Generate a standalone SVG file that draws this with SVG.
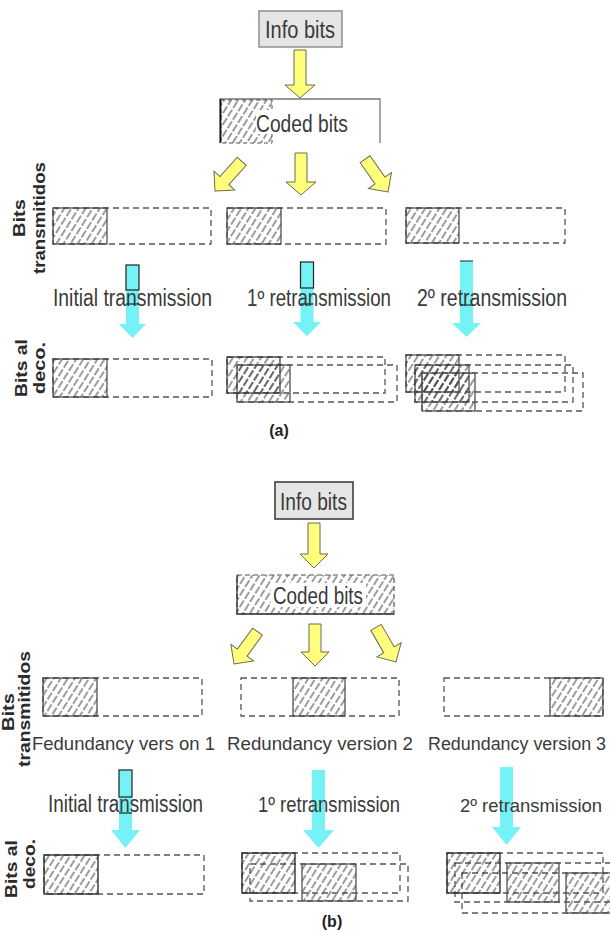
<svg xmlns="http://www.w3.org/2000/svg" xmlns:xlink="http://www.w3.org/1999/xlink" width="610" height="932" viewBox="0 0 610 932">
  <defs>
    <pattern id="hatch" patternUnits="userSpaceOnUse" width="6" height="10" patternTransform="rotate(32)">
      <line x1="3" y1="0" x2="3" y2="10" stroke="#3a3a3a" stroke-width="1" stroke-dasharray="8 2"/>
    </pattern>
    <!-- block arrow pointing down, tip at origin -->
    <path id="diag" d="M-6,-40 H6 V-14 H14 L0,0 L-14,-14 H-6 Z"/>
  </defs>
  <style>
    .lbl { font-family: "Liberation Sans", Arial, sans-serif; fill: #3a3a3a; }
    .vl { font-family: "Liberation Sans", Arial, sans-serif; fill: #2a2a2a; font-weight: bold; font-size: 17px; }
    .tag { font-family: "Liberation Sans", Arial, sans-serif; fill: #222; font-weight: bold; font-size: 16px; text-anchor: middle; }
    .dash { fill: none; stroke: #555; stroke-width: 1.3; stroke-dasharray: 6 4; }
    .hat { fill: url(#hatch); stroke: #444; stroke-width: 1.2; }
    .yel { fill: #ffff7c; stroke: #6a6a55; stroke-width: 1; }
    .cy { fill: #74f2f6; stroke: none; }
    .cyo { fill: none; stroke: #222; stroke-width: 1.2; }
    .info { fill: #e5e5e5; stroke: #888; stroke-width: 1.4; }
  </style>
  <rect width="610" height="932" fill="#ffffff"/>

  <!-- ===================== (a) Chase combining ===================== -->
  <g id="a-info">
    <rect class="info" x="259" y="11" width="83" height="36"/>
    <text class="lbl" x="265" y="38" font-size="23.5" textLength="70" lengthAdjust="spacingAndGlyphs">Info bits</text>
  </g>
  <g id="a-coded">
    <path d="M220,143 V99 H380 V143" fill="none" stroke="#777" stroke-width="1.3"/>
    <rect x="221" y="100" width="51" height="43" fill="url(#hatch)" stroke="#555" stroke-width="1" stroke-dasharray="4 3"/>
    <line x1="220.5" y1="99" x2="220.5" y2="143" stroke="#111" stroke-width="1.6"/>
    <rect x="256" y="110" width="94" height="24" fill="#fff"/>
    <text class="lbl" x="256" y="132" font-size="23.5" textLength="92" lengthAdjust="spacingAndGlyphs">Coded bits</text>
  </g>

  <g id="a-connectors">
    <path class="yel" d="M294,50 H306 V85 H315 L300,98 L285,85 H294 Z"/>
    <use xlink:href="#diag" class="yel" transform="translate(215,191) rotate(42)"/>
    <path class="yel" d="M295,153 H307 V182 H316 L301,195 L286,182 H295 Z"/>
    <use xlink:href="#diag" class="yel" transform="translate(388,192) rotate(-35)"/>
    <!-- cyan transfer arrows -->
    <path class="cy" d="M126,265 H139 V324 H146 L132.5,338 L119,324 H126 Z"/>
    <rect class="cyo" x="126" y="265" width="13" height="25"/>
    <line x1="126" y1="304" x2="139" y2="304" stroke="#222" stroke-width="1.2"/>
    <path class="cy" d="M300.5,262 H313.5 V322 H321 L307,336 L293,322 H300.5 Z"/>
    <rect class="cyo" x="300.5" y="262" width="13" height="26"/>
    <line x1="300.5" y1="304" x2="313.5" y2="304" stroke="#222" stroke-width="1.2"/>
    <path class="cy" d="M460,261 H473 V323 H481 L466.5,337 L452,323 H460 Z"/>
    <line x1="460" y1="261" x2="473" y2="261" stroke="#444" stroke-width="1.2"/>
    <line x1="460" y1="305" x2="473" y2="305" stroke="#333" stroke-width="1.2"/>
  </g>

  <g id="a-tx1">
    <rect class="dash" x="53" y="208" width="158" height="36"/>
    <rect class="hat" x="53" y="208" width="54" height="36"/>
  </g>
  <g id="a-tx2">
    <rect class="dash" x="227" y="208" width="159" height="36"/>
    <rect class="hat" x="227" y="208" width="54" height="36"/>
  </g>
  <g id="a-tx3">
    <rect class="dash" x="406" y="208" width="159" height="35"/>
    <rect class="hat" x="406" y="208" width="53" height="35"/>
  </g>

  <g id="a-steps">
    <text class="lbl" x="53" y="306" font-size="23.5" textLength="159" lengthAdjust="spacingAndGlyphs">Initial transmission</text>
    <text class="lbl" x="247" y="306" font-size="23" textLength="144" lengthAdjust="spacingAndGlyphs">1º retransmission</text>
    <text class="lbl" x="417" y="306" font-size="23.5" textLength="150" lengthAdjust="spacingAndGlyphs">2º retransmission</text>
  </g>

  <g id="a-rx1">
    <rect class="dash" x="53" y="359" width="159" height="38"/>
    <rect class="hat" x="53" y="359" width="54" height="38"/>
  </g>
  <g id="a-rx2">
    <rect class="hat" x="237" y="365" width="53" height="37"/>
    <rect class="dash" x="237" y="365" width="160" height="37"/>
    <rect class="dash" x="227" y="357" width="158" height="36"/>
    <rect x="227" y="357" width="53" height="36" fill="url(#hatch)" stroke="#333" stroke-width="1.2"/>
  </g>
  <g id="a-rx3">
    <rect class="hat" x="422" y="373" width="53" height="38"/>
    <rect class="dash" x="422" y="373" width="161" height="38"/>
    <rect class="dash" x="415" y="365" width="158" height="37"/>
    <rect x="415" y="365" width="54" height="37" fill="url(#hatch)" stroke="#444" stroke-width="1.2"/>
    <rect class="dash" x="406" y="355" width="159" height="37"/>
    <rect x="406" y="355" width="53" height="37" fill="url(#hatch)" stroke="#444" stroke-width="1.2"/>
  </g>

  <g id="a-axis">
    <text class="vl" transform="translate(25,218) rotate(-90)" text-anchor="middle" textLength="38" lengthAdjust="spacingAndGlyphs">Bits</text>
    <text class="vl" transform="translate(45,218) rotate(-90)" text-anchor="middle" font-weight="normal" textLength="112" lengthAdjust="spacingAndGlyphs">transmitidos</text>
    <text class="vl" transform="translate(27,368) rotate(-90)" text-anchor="middle" textLength="58" lengthAdjust="spacingAndGlyphs">Bits al</text>
    <text class="vl" transform="translate(45,368) rotate(-90)" text-anchor="middle" textLength="52" lengthAdjust="spacingAndGlyphs">deco.</text>
    <text class="tag" x="279" y="436">(a)</text>
  </g>

  <!-- ===================== (b) Incremental redundancy ===================== -->
  <g id="b-info">
    <rect x="275" y="482" width="78" height="37" fill="#e5e5e5" stroke="#333" stroke-width="1.5"/>
    <text class="lbl" x="280" y="510" font-size="23" textLength="67" lengthAdjust="spacingAndGlyphs">Info bits</text>
  </g>
  <g id="b-coded">
    <rect x="237" y="575" width="157" height="39" fill="url(#hatch)" stroke="#555" stroke-width="1.2" stroke-dasharray="5 3"/>
    <path d="M237,575 V614 H394" fill="none" stroke="#333" stroke-width="1.3"/>
    <rect x="271" y="583" width="95" height="24" fill="#fff"/>
    <text class="lbl" x="273" y="604" font-size="23" textLength="90" lengthAdjust="spacingAndGlyphs">Coded bits</text>
  </g>

  <g id="b-connectors">
    <path class="yel" d="M308,523 H320 V554 H328 L314,568 L300,554 H308 Z"/>
    <use xlink:href="#diag" class="yel" transform="translate(234,664) rotate(36)"/>
    <path class="yel" d="M309,624 H321 V652 H329 L315,666 L301,652 H309 Z"/>
    <use xlink:href="#diag" class="yel" transform="translate(396,662) rotate(-30)"/>
    <!-- cyan transfer arrows -->
    <path class="cy" d="M119,770 H132 V830 H140 L125.5,848 L111,830 H119 Z"/>
    <rect class="cyo" x="119" y="770" width="13" height="27"/>
    <line x1="119" y1="813" x2="132" y2="813" stroke="#222" stroke-width="1.2"/>
    <path class="cy" d="M312,770 H325 V830 H334 L318.5,848 L303,830 H312 Z"/>
    <path class="cy" d="M500,767 H513 V827 H521 L506.5,845 L492,827 H500 Z"/>
  </g>

  <g id="b-tx1">
    <rect class="dash" x="43" y="678" width="159" height="38"/>
    <rect class="hat" x="43" y="678" width="54" height="38"/>
  </g>
  <g id="b-tx2">
    <rect class="dash" x="241" y="678" width="158" height="38"/>
    <rect class="hat" x="293" y="678" width="52" height="38"/>
  </g>
  <g id="b-tx3">
    <rect class="dash" x="444" y="678" width="159" height="38"/>
    <rect class="hat" x="550" y="678" width="53" height="38"/>
  </g>

  <g id="b-versions">
    <text class="lbl" x="32" y="750" font-size="19" textLength="183" lengthAdjust="spacingAndGlyphs">Fedundancy vers on 1</text>
    <text class="lbl" x="227" y="750" font-size="19" textLength="186" lengthAdjust="spacingAndGlyphs">Redundancy version 2</text>
    <text class="lbl" x="428" y="750" font-size="17.5" textLength="178" lengthAdjust="spacingAndGlyphs">Redundancy version 3</text>
  </g>

  <g id="b-steps">
    <text class="lbl" x="48" y="812" font-size="23" textLength="155" lengthAdjust="spacingAndGlyphs">Initial transmission</text>
    <text class="lbl" x="258" y="812" font-size="22.5" textLength="142" lengthAdjust="spacingAndGlyphs">1º retransmission</text>
    <text class="lbl" x="460" y="812" font-size="19" textLength="142" lengthAdjust="spacingAndGlyphs">2º retransmission</text>
  </g>

  <g id="b-rx1">
    <rect class="dash" x="44" y="855" width="160" height="39"/>
    <rect x="44" y="855" width="54" height="39" fill="url(#hatch)" stroke="#333" stroke-width="1.4"/>
  </g>
  <g id="b-rx2">
    <rect class="hat" x="302" y="864" width="54" height="37"/>
    <rect class="dash" x="250" y="864" width="158" height="37"/>
    <rect class="dash" x="242" y="853" width="158" height="40"/>
    <rect x="242" y="853" width="53" height="40" fill="url(#hatch)" stroke="#333" stroke-width="1.4"/>
  </g>
  <g id="b-rx3">
    <rect class="hat" x="566" y="873" width="54" height="40"/>
    <rect class="dash" x="462" y="873" width="158" height="40"/>
    <rect class="hat" x="507" y="863" width="52" height="39"/>
    <rect class="dash" x="455" y="863" width="158" height="39"/>
    <rect class="dash" x="447" y="853" width="156" height="40"/>
    <rect x="447" y="853" width="53" height="40" fill="url(#hatch)" stroke="#333" stroke-width="1.4"/>
  </g>

  <g id="b-axis">
    <text class="vl" transform="translate(14,712) rotate(-90)" text-anchor="middle" textLength="38" lengthAdjust="spacingAndGlyphs">Bits</text>
    <text class="vl" transform="translate(30,709) rotate(-90)" text-anchor="middle" font-weight="normal" textLength="116" lengthAdjust="spacingAndGlyphs">transmitidos</text>
    <text class="vl" transform="translate(17,869) rotate(-90)" text-anchor="middle" textLength="58" lengthAdjust="spacingAndGlyphs">Bits al</text>
    <text class="vl" transform="translate(35,864) rotate(-90)" text-anchor="middle" textLength="50" lengthAdjust="spacingAndGlyphs">deco.</text>
    <text class="tag" x="332" y="927">(b)</text>
  </g>
</svg>
